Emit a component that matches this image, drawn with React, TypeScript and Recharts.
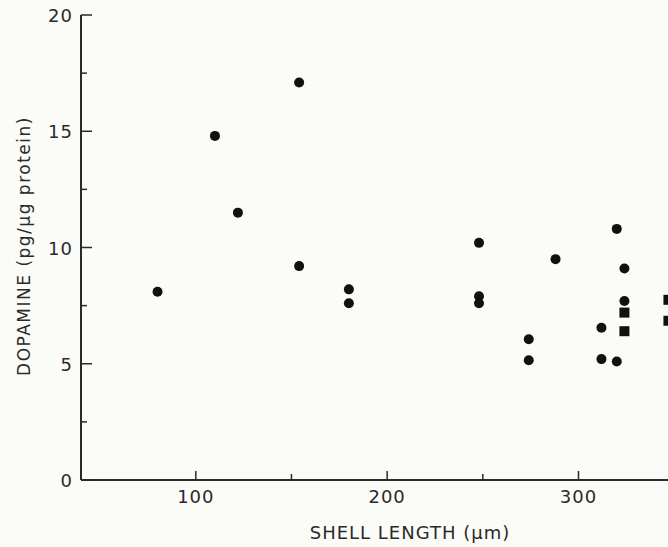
import { ScatterChart, Scatter, XAxis, YAxis } from 'recharts'

// shell length (µm) vs dopamine (pg/µg protein)
const circleLength = [80, 110, 122, 154, 154, 180, 180, 248, 248, 248, 288, 274, 274, 320, 324, 324, 312, 312, 320]
const circleDopamine = [8.1, 14.8, 11.5, 17.1, 9.2, 8.2, 7.6, 10.2, 7.9, 7.6, 9.5, 6.05, 5.15, 10.8, 9.1, 7.7, 6.55, 5.2, 5.1]
const squareLength = [324, 324, 347, 347]
const squareDopamine = [7.2, 6.4, 7.75, 6.85]

const xTicks = [100, 150, 200, 250, 300]
const yTicks = [0, 2.5, 5, 7.5, 10, 12.5, 15, 17.5, 20]

const circles = circleLength.map((x, i) => ({ x, y: circleDopamine[i] }))
const squares = squareLength.map((x, i) => ({ x, y: squareDopamine[i] }))

const INK = '#2a2a2a'
const FONT = '"DejaVu Sans", sans-serif'

function XTick({ x, y, payload }: any) {
  const major = payload.value % 100 === 0
  return (
    <g>
      <line x1={x} y1={y} x2={x} y2={y - (major ? 9 : 6)} stroke={INK} strokeWidth={1.5} />
      {major && (
        <text x={x} y={y + 23} textAnchor="middle" fontSize={18} fill={INK} fontFamily={FONT} letterSpacing={1}>
          {payload.value}
        </text>
      )}
    </g>
  )
}

function YTick({ x, y, payload }: any) {
  const major = payload.value % 5 === 0
  return (
    <g>
      <line x1={x} y1={y} x2={x + (major ? 11 : 6)} y2={y} stroke={INK} strokeWidth={1.5} />
      {major && (
        <text x={x - 8} y={y + 7} textAnchor="end" fontSize={18} fill={INK} fontFamily={FONT} letterSpacing={1}>
          {payload.value}
        </text>
      )}
    </g>
  )
}

const Dot = ({ cx, cy }: any) => <circle cx={cx} cy={cy} r={5} fill="#111" />
const Box = ({ cx, cy }: any) => <rect x={cx - 5} y={cy - 5} width={10} height={10} fill="#111" />

export default function App() {
  return (
    <div style={{ position: 'fixed', left: 0, top: 0, width: 668, height: 547, overflow: 'hidden', background: '#fbfbf7' }}>
      <ScatterChart width={720} height={547} margin={{ top: 15, right: 42, left: 0, bottom: 0 }}>
        <XAxis
          type="number"
          dataKey="x"
          domain={[40, 352]}
          ticks={xTicks}
          allowDataOverflow
          height={67}
          tickSize={0}
          tickMargin={0}
          tickLine={false}
          axisLine={{ stroke: INK, strokeWidth: 2 }}
          tick={<XTick />}
          interval={0}
          label={() => (
            <text x={410} y={539} textAnchor="middle" fontSize={18} fill={INK} fontFamily={FONT} letterSpacing={1}>
              SHELL LENGTH (µm)
            </text>
          )}
        />
        <YAxis
          type="number"
          dataKey="y"
          domain={[0, 20]}
          ticks={yTicks}
          width={81}
          tickSize={0}
          tickMargin={0}
          tickLine={false}
          axisLine={{ stroke: INK, strokeWidth: 2 }}
          tick={<YTick />}
          interval={0}
          label={() => (
            <text transform="translate(30,246) rotate(-90)" textAnchor="middle" fontSize={17} fill={INK} fontFamily={FONT} letterSpacing={1.5}>
              DOPAMINE (pg/µg protein)
            </text>
          )}
        />
        <Scatter data={circles} shape={<Dot />} isAnimationActive={false} />
        <Scatter data={squares} shape={<Box />} isAnimationActive={false} />
      </ScatterChart>
    </div>
  )
}
